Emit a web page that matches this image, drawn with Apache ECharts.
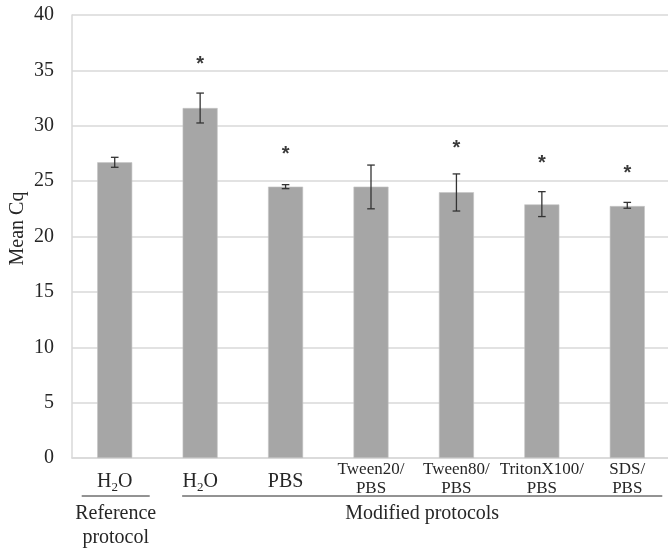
<!DOCTYPE html>
<html>
<head>
<meta charset="utf-8">
<script src="https://cdn.jsdelivr.net/npm/echarts@6/dist/echarts.min.js"></script>
<style>
html,body{margin:0;padding:0;background:#fff;}
#chart{width:668px;height:549px;}
</style>
</head>
<body>
<div id="chart"></div>
<script>
// Data
var categories = ['H2O_ref', 'H2O', 'PBS', 'Tween20/PBS', 'Tween80/PBS', 'TritonX100/PBS', 'SDS/PBS'];
var meanCq = [26.7, 31.6, 24.5, 24.5, 24.0, 22.9, 22.75];
var errLow = [26.25, 30.25, 24.32, 22.5, 22.3, 21.8, 22.55];
var errHigh = [27.15, 32.95, 24.68, 26.45, 25.65, 24.05, 23.08];
var starLevel = [null, 36.1, 27.95, null, 28.45, 27.1, 26.2];
var yTicks = {min: 0, max: 40, interval: 5};
var yTitle = 'Mean Cq';
var groupLabels = ['Reference\nprotocol', 'Modified protocols'];

var SERIF = '"Liberation Serif", "Times New Roman", serif';
var TXT = '#262626';

var chart = echarts.init(document.getElementById('chart'), null, {renderer: 'canvas'});

function catLabel(v) {
  if (v === 'H2O_ref' || v === 'H2O') return '{n|H}{s|2}{n|O}';
  if (v === 'PBS') return '{n|PBS}';
  var parts = v.split('/');
  return '{m|' + parts[0] + '/}\n{m|' + parts[1] + '}';
}

var errData = categories.map(function (c, i) { return [i, errLow[i], errHigh[i]]; });
var starData = categories.map(function (c, i) { return [i, starLevel[i]]; });

var option = {
  animation: false,
  backgroundColor: '#fff',
  grid: {left: 72, right: -2, top: 15, bottom: 91, containLabel: false, outerBoundsMode: 'none'},
  xAxis: {
    type: 'category',
    data: categories,
    axisLine: {show: true, lineStyle: {color: '#d9d9d9', width: 1.5}},
    axisTick: {show: false},
    axisLabel: {
      interval: 0,
      margin: 2,
      formatter: catLabel,
      color: TXT,
      rich: {
        n: {fontFamily: SERIF, fontSize: 20, lineHeight: 44, color: TXT},
        s: {fontFamily: SERIF, fontSize: 13, lineHeight: 44, padding: [12, 0, 0, 0], color: TXT},
        m: {fontFamily: SERIF, fontSize: 17, lineHeight: 19, color: TXT}
      }
    }
  },
  yAxis: {
    type: 'value',
    min: yTicks.min, max: yTicks.max, interval: yTicks.interval,
    axisLine: {show: true, lineStyle: {color: '#d9d9d9', width: 1.5}},
    axisTick: {show: false},
    axisLabel: {fontFamily: SERIF, fontSize: 20, color: TXT, margin: 18},
    splitLine: {lineStyle: {color: '#d9d9d9', width: 1.5}}
  },
  series: [
    {
      type: 'bar',
      data: meanCq,
      barWidth: 35,
      itemStyle: {color: '#a6a6a6', borderColor: '#c4c4c4', borderWidth: 0.6},
      z: 2
    },
    {
      type: 'custom',
      data: errData,
      z: 3,
      renderItem: function (params, api) {
        var x = api.value(0);
        var lo = api.coord([x, api.value(1)]);
        var hi = api.coord([x, api.value(2)]);
        var w = 3.8;
        var st = {stroke: '#333', lineWidth: 1.3};
        return {
          type: 'group',
          children: [
            {type: 'line', shape: {x1: hi[0], y1: hi[1], x2: lo[0], y2: lo[1]}, style: st},
            {type: 'line', shape: {x1: hi[0] - w, y1: hi[1], x2: hi[0] + w, y2: hi[1]}, style: st},
            {type: 'line', shape: {x1: lo[0] - w, y1: lo[1], x2: lo[0] + w, y2: lo[1]}, style: st}
          ]
        };
      }
    },
    {
      type: 'custom',
      data: starData,
      z: 3,
      renderItem: function (params, api) {
        var v = api.value(1);
        if (v == null || isNaN(v)) return null;
        var p = api.coord([api.value(0), v]);
        return {
          type: 'text',
          style: {
            x: p[0], y: p[1] + 6,
            text: '*',
            fill: '#3a3a3a',
            font: 'bold 20px "Liberation Sans", Arial, sans-serif',
            align: 'center',
            verticalAlign: 'middle'
          }
        };
      }
    }
  ]
};

chart.setOption(option);

function drawGroups() {
  var c0 = chart.convertToPixel({xAxisIndex: 0}, 0);
  var c1 = chart.convertToPixel({xAxisIndex: 0}, 1);
  var c6 = chart.convertToPixel({xAxisIndex: 0}, categories.length - 1);
  var y0 = chart.convertToPixel({yAxisIndex: 0}, 0);
  var yTop = chart.convertToPixel({yAxisIndex: 0}, yTicks.max);
  var lineY = y0 + 38;
  var ref = [c0 - 33, c0 + 35];
  var mod = [c1 - 18, c6 + 35];
  var ls = {stroke: '#262626', lineWidth: 1};
  chart.setOption({
    graphic: [
      {type: 'text', x: 18, y: (y0 + yTop) / 2 - 8, rotation: Math.PI / 2, style: {
        text: yTitle, fill: TXT, font: '20px ' + SERIF, align: 'center', verticalAlign: 'middle'}},
      {type: 'line', shape: {x1: ref[0], y1: lineY, x2: ref[1], y2: lineY}, style: ls, silent: true},
      {type: 'line', shape: {x1: mod[0], y1: lineY, x2: mod[1], y2: lineY}, style: ls, silent: true},
      {type: 'text', x: (ref[0] + ref[1]) / 2, y: lineY + 6, style: {
        text: groupLabels[0], fill: TXT, font: '20px ' + SERIF, align: 'center', verticalAlign: 'top', lineHeight: 24}},
      {type: 'text', x: (mod[0] + mod[1]) / 2, y: lineY + 8, style: {
        text: groupLabels[1], fill: TXT, font: '20px ' + SERIF, align: 'center', verticalAlign: 'top'}}
    ]
  });
}
drawGroups();
</script>
</body>
</html>
